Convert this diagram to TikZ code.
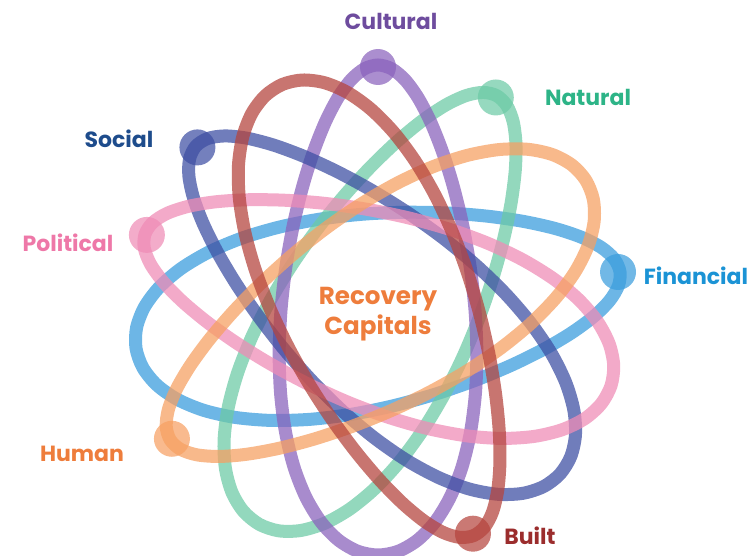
\documentclass[tikz,border=0pt]{standalone}
\usepackage{fontspec}
\setmainfont{Poppins}
\usetikzlibrary{positioning}
\definecolor{culturalline}{HTML}{8A62BC}
\definecolor{culturaltext}{HTML}{6E4C9E}
\definecolor{naturalline}{HTML}{6DCAA6}
\definecolor{naturaltext}{HTML}{2DB487}
\definecolor{socialline}{HTML}{3E4FA3}
\definecolor{socialtext}{HTML}{1E4C8C}
\definecolor{politicalline}{HTML}{EF8CB6}
\definecolor{politicaltext}{HTML}{EE78A8}
\definecolor{financialline}{HTML}{3A9DDD}
\definecolor{financialtext}{HTML}{1B93D5}
\definecolor{humanline}{HTML}{F6A062}
\definecolor{humantext}{HTML}{EE7D3C}
\definecolor{builtline}{HTML}{B5453E}
\definecolor{builttext}{HTML}{9B2D2D}

\begin{document}
\begin{tikzpicture}[x=0.02cm,y=0.02cm,
    loopline/.style={line width=7.4pt, draw opacity=0.74},
    ball/.style={circle, inner sep=0pt, minimum size=0.72cm, fill opacity=0.72},
    capital/.style={font=\bfseries\fontsize{12.5}{15}\selectfont}]
    % Frame
    \useasboundingbox (0,0) rectangle (749,555);
    \coordinate (centre) at (378,245);
    % Loops with their balls
    \foreach \ang/\name in {9/financial, 61/natural, 90/cultural, 138/social,
                            162/political, 212/human, 293/built}{
      \begin{scope}[shift={(centre)}, rotate=\ang]
        \draw[loopline, draw=\name line] plot[smooth cycle, variable=\t, domain=0:350, samples=36]
          ({245*cos(\t)}, {97*sin(\t)*(1-0.2*cos(\t))});
        \node[ball, fill=\name line] (ball-\name) at (243,0) {};
      \end{scope}
    }
    % Labels
    \node[capital, text=culturaltext]  (cultural)  at (391,534) {Cultural};
    \node[capital, text=naturaltext]   (natural)   at (588,458) {Natural};
    \node[capital, text=socialtext]    (social)    at (119,416) {Social};
    \node[capital, text=politicaltext] (political) at (68,312)  {Political};
    \node[capital, text=financialtext] (financial) at (696,279) {Financial};
    \node[capital, text=humantext]     (human)     at (82,101)  {Human};
    \node[capital, text=builttext]     (built)     at (530,19)  {Built};
    % Centre
    \node[capital, text=humantext, align=center, font=\bfseries\fontsize{14}{17}\selectfont]
      (recovery) at (378,241) {Recovery\\Capitals};
\end{tikzpicture}
\end{document}
